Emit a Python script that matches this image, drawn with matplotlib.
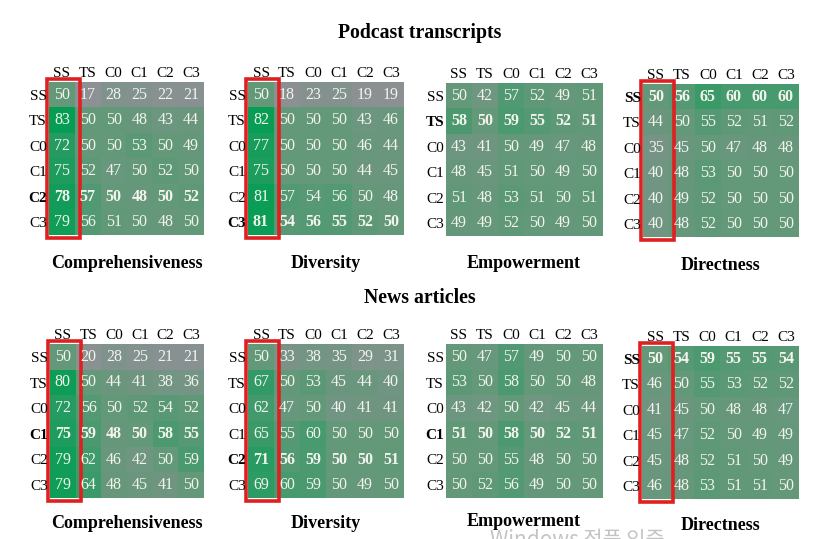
import numpy as np
import matplotlib
matplotlib.use("Agg")
import matplotlib.pyplot as plt
from matplotlib.colors import LinearSegmentedColormap
from matplotlib.patches import Rectangle

labels = ["SS", "TS", "C0", "C1", "C2", "C3"]
metrics = ["Comprehensiveness", "Diversity", "Empowerment", "Directness"]
sections = ["Podcast transcripts", "News articles"]

pod_comp = [[50, 17, 28, 25, 22, 21],
            [83, 50, 50, 48, 43, 44],
            [72, 50, 50, 53, 50, 49],
            [75, 52, 47, 50, 52, 50],
            [78, 57, 50, 48, 50, 52],
            [79, 56, 51, 50, 48, 50]]
pod_div = [[50, 18, 23, 25, 19, 19],
           [82, 50, 50, 50, 43, 46],
           [77, 50, 50, 50, 46, 44],
           [75, 50, 50, 50, 44, 45],
           [81, 57, 54, 56, 50, 48],
           [81, 54, 56, 55, 52, 50]]
pod_emp = [[50, 42, 57, 52, 49, 51],
           [58, 50, 59, 55, 52, 51],
           [43, 41, 50, 49, 47, 48],
           [48, 45, 51, 50, 49, 50],
           [51, 48, 53, 51, 50, 51],
           [49, 49, 52, 50, 49, 50]]
pod_dir = [[50, 56, 65, 60, 60, 60],
           [44, 50, 55, 52, 51, 52],
           [35, 45, 50, 47, 48, 48],
           [40, 48, 53, 50, 50, 50],
           [40, 49, 52, 50, 50, 50],
           [40, 48, 52, 50, 50, 50]]
news_comp = [[50, 20, 28, 25, 21, 21],
             [80, 50, 44, 41, 38, 36],
             [72, 56, 50, 52, 54, 52],
             [75, 59, 48, 50, 58, 55],
             [79, 62, 46, 42, 50, 59],
             [79, 64, 48, 45, 41, 50]]
news_div = [[50, 33, 38, 35, 29, 31],
            [67, 50, 53, 45, 44, 40],
            [62, 47, 50, 40, 41, 41],
            [65, 55, 60, 50, 50, 50],
            [71, 56, 59, 50, 50, 51],
            [69, 60, 59, 50, 49, 50]]
news_emp = [[50, 47, 57, 49, 50, 50],
            [53, 50, 58, 50, 50, 48],
            [43, 42, 50, 42, 45, 44],
            [51, 50, 58, 50, 52, 51],
            [50, 50, 55, 48, 50, 50],
            [50, 52, 56, 49, 50, 50]]
news_dir = [[50, 54, 59, 55, 55, 54],
            [46, 50, 55, 53, 52, 52],
            [41, 45, 50, 48, 48, 47],
            [45, 47, 52, 50, 49, 49],
            [45, 48, 52, 51, 50, 49],
            [46, 48, 53, 51, 51, 50]]

data = [[pod_comp, pod_div, pod_emp, pod_dir],
        [news_comp, news_div, news_emp, news_dir]]
bold_rows = [[4, 5, 1, 0], [3, 4, 3, 0]]
red_box = [[True, True, False, True], [True, True, False, True]]

W, H = 819, 539
plt.rcParams['font.family'] = ['Liberation Serif', 'DejaVu Serif']

cmap = LinearSegmentedColormap.from_list(
    "gg", [(0.0, (144/255, 144/255, 150/255)),
           (0.5, (100/255, 152/255, 122/255)),
           (1.0, (0/255, 158/255, 82/255))])

fig = plt.figure(figsize=(W/100, H/100), dpi=100)

# grid pixel boxes: (x0, y0, x1, y1)
boxes = [[(49, 82, 204, 235), (248, 82, 404, 235), (446, 83, 602, 236), (643, 84, 799, 237)],
         [(50, 344, 204, 498), (248, 344, 404, 498), (446, 344, 602, 498), (642, 346, 799, 499)]]
xlabel_y = [[263, 263, 263, 265], [524, 524, 522, 526]]
title_y = [33, 298]

for r in range(2):
    fig.text(0.512, 1 - title_y[r]/H, sections[r], ha='center', va='center',
             fontsize=14.2, fontweight='bold')
    for c in range(4):
        x0, y0, x1, y1 = boxes[r][c]
        ax = fig.add_axes([x0/W, 1 - y1/H, (x1-x0)/W, (y1-y0)/H])
        arr = np.array(data[r][c])
        ax.imshow(arr, cmap=cmap, vmin=15, vmax=85, aspect='auto')
        br = bold_rows[r][c]
        for i in range(6):
            for j in range(6):
                ax.text(j, i, str(arr[i, j]), ha='center', va='center',
                        color='#f4f4ee', fontsize=11.5,
                        fontweight='bold' if i == br else 'normal')
        ax.set_xticks(range(6))
        ax.set_yticks(range(6))
        ax.set_xticklabels(labels, fontsize=11)
        ax.set_yticklabels(labels, fontsize=11)
        for k, t in enumerate(ax.get_yticklabels()):
            if k == br:
                t.set_fontweight('bold')
        ax.xaxis.tick_top()
        ax.tick_params(length=0, pad=1.5)
        for s in ax.spines.values():
            s.set_visible(False)
        if red_box[r][c]:
            rect = Rectangle((-0.58, -0.62), 1.28, 6.24, fill=False,
                             edgecolor='#e02020', linewidth=2.6, clip_on=False)
            ax.add_patch(rect)
        fig.text((x0 + x1)/2/W, 1 - xlabel_y[r][c]/H, metrics[c], ha='center',
                 va='center', fontsize=13, fontweight='bold')

fig.text(490/W, 1 - 529/H, "Windows 정품 인증", ha='left', va='top',
         fontsize=15, color='#c4c4c4', family=['Noto Sans CJK KR', 'DejaVu Sans'])

fig.savefig("out.png", dpi=100)
